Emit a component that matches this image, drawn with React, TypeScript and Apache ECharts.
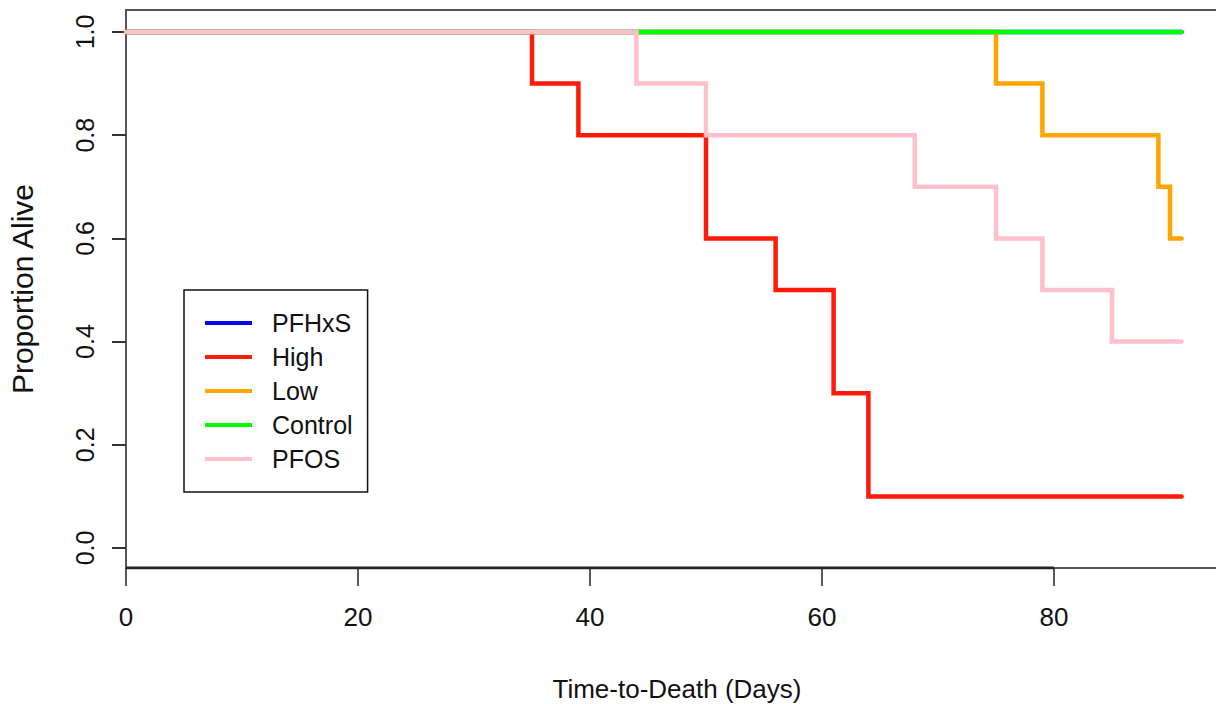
import React, { useEffect, useRef } from "react";
import * as echarts from "echarts";

// Kaplan–Meier style survival steps: [day, proportion alive]
const seriesNames = ["PFHxS", "High", "Low", "Control", "PFOS"];
const seriesColors = ["#0000FF", "#FF1A0A", "#FFA500", "#00FF00", "#FFC0CB"];
const pfhxs: number[][] = [[0, 1], [91, 1]];
const high: number[][] = [[0, 1], [35, 0.9], [39, 0.8], [50, 0.6], [56, 0.5], [61, 0.3], [64, 0.1], [91, 0.1]];
const low: number[][] = [[0, 1], [75, 0.9], [79, 0.8], [89, 0.7], [90, 0.6], [91, 0.6]];
const control: number[][] = [[0, 1], [91, 1]];
const pfos: number[][] = [[0, 1], [44, 0.9], [50, 0.8], [68, 0.7], [75, 0.6], [79, 0.5], [85, 0.4], [91, 0.4]];
const allData = [pfhxs, high, low, control, pfos];

const xTicks = [0, 20, 40, 60, 80];
const yTicks = [0, 0.2, 0.4, 0.6, 0.8, 1.0];
const xTitle = "Time-to-Death (Days)";
const yTitle = "Proportion Alive";

const X_MIN = 0;
const X_MAX = 95;
const Y_MIN = -0.0388;
const Y_MAX = 1.0426;

const SANS = "'Liberation Sans', Arial, Helvetica, sans-serif";

export default function App() {
  const ref = useRef<HTMLDivElement>(null);
  useEffect(() => {
    if (!ref.current) return;
    const chart = echarts.init(ref.current, undefined, { renderer: "svg" });
    const lineSeries = seriesNames.map((name, i) => ({
      name,
      type: "line",
      step: "end",
      data: allData[i],
      showSymbol: false,
      symbol: "none",
      lineStyle: { color: seriesColors[i], width: 4.5, cap: "round", join: "miter" },
      itemStyle: { color: seriesColors[i] },
      z: 2 + i,
      silent: true,
    }));
    const axisLineSeries = {
      name: "__xaxis",
      type: "line",
      data: [[xTicks[0], Y_MIN], [xTicks[xTicks.length - 1], Y_MIN]],
      showSymbol: false,
      symbol: "none",
      lineStyle: { color: "#222", width: 3 },
      z: 20,
      silent: true,
    };
    chart.setOption({
      animation: false,
      backgroundColor: "#ffffff",
      grid: {
        left: 126,
        top: 10,
        width: 1102,
        height: 558,
        outerBoundsMode: "none",
        containLabel: false,
        show: true,
        borderColor: "#555",
        borderWidth: 2,
        backgroundColor: "transparent",
      },
      legend: {
        data: seriesNames,
        orient: "vertical",
        left: 184,
        top: 290,
        icon: "rect",
        itemWidth: 47,
        itemHeight: 4,
        itemGap: 4,
        padding: [18, 15, 18, 21],
        borderColor: "#111",
        borderWidth: 1.5,
        backgroundColor: "#fff",
        selectedMode: false,
        textStyle: {
          fontFamily: SANS,
          fontSize: 25,
          color: "#111",
          lineHeight: 30,
          padding: [0, 0, 0, 15],
        },
      },
      xAxis: {
        type: "value",
        min: X_MIN,
        max: X_MAX,
        name: xTitle,
        nameLocation: "middle",
        nameGap: 108,
        nameMoveOverlap: false,
        nameTextStyle: { fontFamily: SANS, fontSize: 26, color: "#111" },
        axisLine: { show: false, onZero: false },
        axisTick: { show: true, inside: false, customValues: xTicks, length: 18, lineStyle: { color: "#222", width: 1.5 } },
        axisLabel: {
          customValues: xTicks,
          margin: 36,
          fontFamily: SANS,
          fontSize: 26,
          color: "#111",
          formatter: (v: number) => String(v),
        },
        splitLine: { show: false },
      },
      yAxis: {
        type: "value",
        min: Y_MIN,
        max: Y_MAX,
        name: yTitle,
        nameLocation: "middle",
        nameGap: 89,
        nameRotate: 90,
        nameMoveOverlap: false,
        nameTextStyle: { fontFamily: SANS, fontSize: 30, color: "#111" },
        axisLine: { show: false, onZero: false },
        axisTick: { show: true, inside: false, customValues: yTicks, length: 14, lineStyle: { color: "#333", width: 2 } },
        axisLabel: {
          customValues: yTicks,
          rotate: 90,
          margin: 29,
          fontFamily: SANS,
          fontSize: 25,
          color: "#111",
          formatter: (v: number) => v.toFixed(1),
        },
        splitLine: { show: false },
      },
      series: [...lineSeries, axisLineSeries],
    });
    return () => chart.dispose();
  }, []);
  return (
    <div
      ref={ref}
      style={{ position: "fixed", left: 0, top: 0, width: 1216, height: 704, background: "#fff" }}
    />
  );
}
